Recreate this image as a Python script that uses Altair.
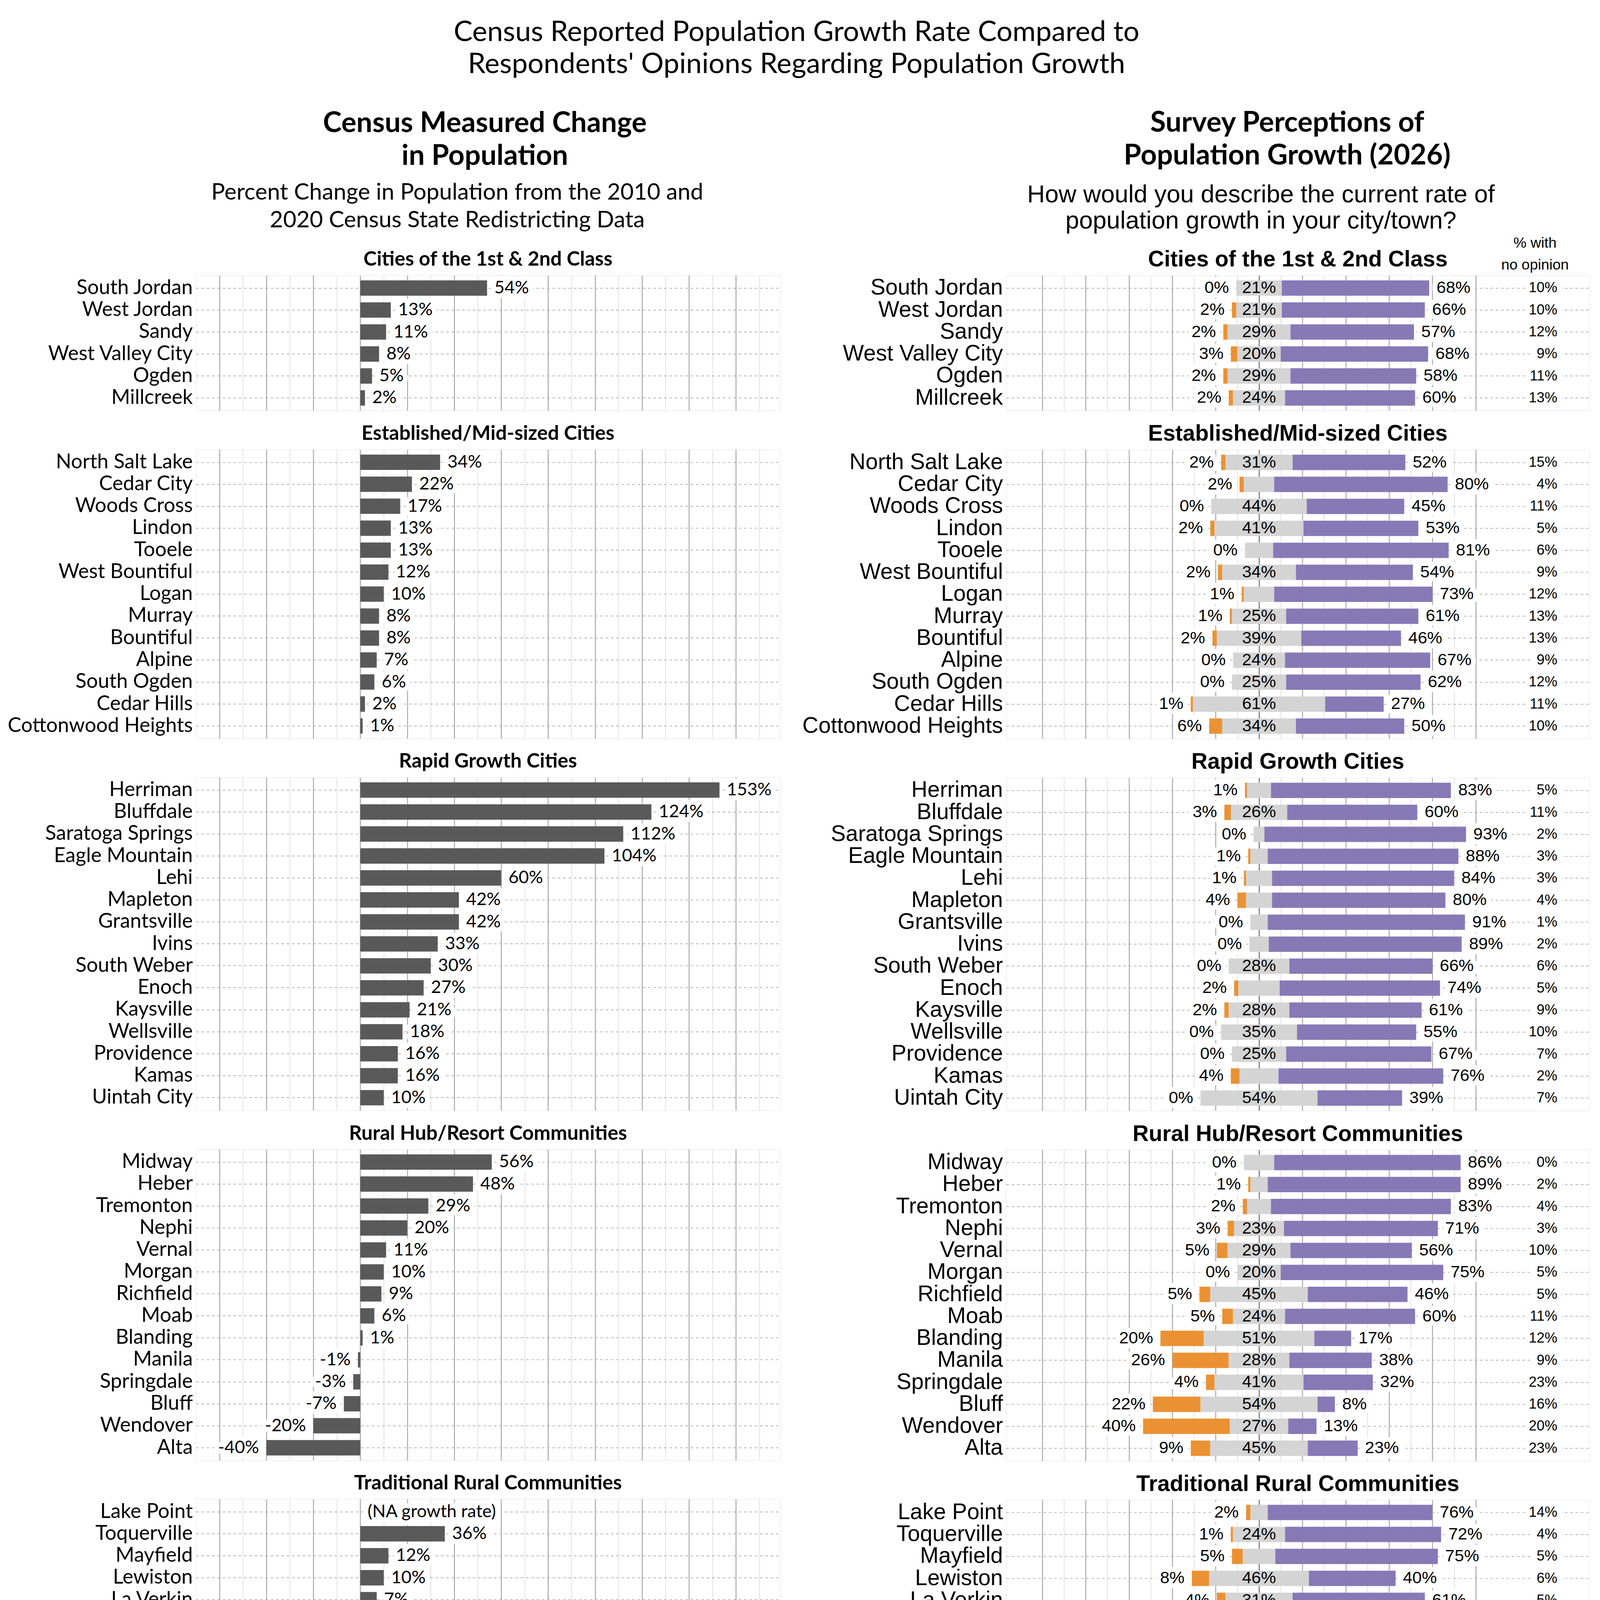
import altair as alt
import pandas as pd

# ------------------------------------------------------------------ data
GROUPS = [
    "Cities of the 1st & 2nd Class",
    "Established/Mid-sized Cities",
    "Rapid Growth Cities",
    "Rural Hub/Resort Communities",
    "Traditional Rural Communities",
]

CITIES = [
    ["South Jordan", "West Jordan", "Sandy", "West Valley City", "Ogden", "Millcreek"],
    ["North Salt Lake", "Cedar City", "Woods Cross", "Lindon", "Tooele", "West Bountiful",
     "Logan", "Murray", "Bountiful", "Alpine", "South Ogden", "Cedar Hills", "Cottonwood Heights"],
    ["Herriman", "Bluffdale", "Saratoga Springs", "Eagle Mountain", "Lehi", "Mapleton",
     "Grantsville", "Ivins", "South Weber", "Enoch", "Kaysville", "Wellsville", "Providence",
     "Kamas", "Uintah City"],
    ["Midway", "Heber", "Tremonton", "Nephi", "Vernal", "Morgan", "Richfield", "Moab",
     "Blanding", "Manila", "Springdale", "Bluff", "Wendover", "Alta"],
    ["Lake Point", "Toquerville", "Mayfield", "Lewiston", "La Verkin", "Delta", "Stockton",
     "Ferron", "Orangeville"],
]

# census percent change 2010-2020 (None = NA growth rate)
CENSUS = [
    [54, 13, 11, 8, 5, 2],
    [34, 22, 17, 13, 13, 12, 10, 8, 8, 7, 6, 2, 1],
    [153, 124, 112, 104, 60, 42, 42, 33, 30, 27, 21, 18, 16, 16, 10],
    [56, 48, 29, 20, 11, 10, 9, 6, 1, -1, -3, -7, -20, -40],
    [None, 36, 12, 10, 7, 5, 1, -9, -17],
]

# survey: too slow / just right / too fast / no opinion (%)
SLOW = [
    [0, 2, 2, 3, 2, 2],
    [2, 2, 0, 2, 0, 2, 1, 1, 2, 0, 0, 1, 6],
    [1, 3, 0, 1, 1, 4, 0, 0, 0, 2, 2, 0, 0, 4, 0],
    [0, 1, 2, 3, 5, 0, 5, 5, 20, 26, 4, 22, 40, 9],
    [2, 1, 5, 8, 4, 15, 6, 17, 19],
]
JUST = [
    [21, 21, 29, 20, 29, 24],
    [31, 14, 44, 41, 13, 34, 14, 25, 39, 24, 25, 61, 34],
    [11, 26, 5, 8, 12, 12, 8, 9, 28, 19, 28, 35, 25, 18, 54],
    [14, 8, 11, 23, 29, 20, 45, 24, 51, 28, 41, 54, 27, 45],
    [8, 24, 15, 46, 31, 41, 34, 50, 53],
]
FAST = [
    [68, 66, 57, 68, 58, 60],
    [52, 80, 45, 53, 81, 54, 73, 61, 46, 67, 62, 27, 50],
    [83, 60, 93, 88, 84, 80, 91, 89, 66, 74, 61, 55, 67, 76, 39],
    [86, 89, 83, 71, 56, 75, 46, 60, 17, 38, 32, 8, 13, 23],
    [76, 72, 75, 40, 61, 33, 53, 17, 17],
]
NOOP = [
    [10, 10, 12, 9, 11, 13],
    [15, 4, 11, 5, 6, 9, 12, 13, 13, 9, 12, 11, 10],
    [5, 11, 2, 3, 3, 4, 1, 2, 6, 5, 9, 10, 7, 2, 7],
    [0, 2, 4, 3, 10, 5, 5, 11, 12, 9, 23, 16, 20, 23],
    [14, 4, 5, 6, 5, 12, 8, 17, 11],
]

CATS = ["Too slow", "Just right", "Too fast"]
CAT_COLORS = ["#EA9233", "#D4D4D4", "#8779B6"]

LEFT_MAJOR = [-60, -40, -20, 0, 20, 40, 60, 80, 100, 120, 140, 160]
LEFT_MINOR = [-50, -30, -10, 10, 30, 50, 70, 90, 110, 130, 150, 170]
RIGHT_MAJOR = [-100, -80, -60, -40, -20, 0, 20, 40, 60, 80, 100]
RIGHT_MINOR = [-90, -70, -50, -30, -10, 10, 30, 50, 70, 90]

TITLE = ["Census Reported Population Growth Rate Compared to",
         "Respondents' Opinions Regarding Population Growth"]
LEFT_HEAD = ["Census Measured Change", "in Population"]
LEFT_SUB = ["Percent Change in Population from the 2010 and",
            "2020 Census State Redistricting Data"]
RIGHT_HEAD = ["Survey Perceptions of", "Population Growth (2026)"]
RIGHT_SUB = ["How would you describe the current rate of",
             "population growth in your city/town?"]
NOOP_HEAD = "% with\nno opinion"

# ------------------------------------------------------------------ style
LF = "Lato"
RF = "Liberation Sans"
STEP = 66.1
PW_L = 1757
PW_R = 1755
BAR_DARK = "#595959"
HALO = dict(fill="white", stroke="white", strokeWidth=30, strokeJoin="round")
SEC_Y = -47          # section title centre, px above the frame
SEC_FS_L = 60
SEC_FS_R = 67

LEGEND = alt.Legend(title=None, orient="none", legendX=2681, legendY=4340,
                    direction="horizontal", symbolType="square",
                    symbolSize=5184, symbolStrokeWidth=0, labelFont=RF,
                    labelFontSize=64, labelColor="#000000", labelOffset=45,
                    labelLimit=1000, columnPadding=72)


def y_enc(order, font, size, extent):
    return alt.Y(
        "city:N", sort=order, title=None,
        scale=alt.Scale(paddingInner=0.3, paddingOuter=0.226),
        axis=alt.Axis(labelFont=font, labelFontSize=size, labelColor="#000000",
                      labelPadding=10, labelLimit=2000, ticks=False, domain=False,
                      grid=True, gridDash=[8, 8], gridColor="#A8A8A8", gridWidth=2,
                      minExtent=extent, maxExtent=extent),
    )


def section_title(i, font, size, width):
    return alt.Chart(pd.DataFrame({"t": [GROUPS[i]]})).mark_text(
        align="center", baseline="middle", font=font, fontSize=size,
        fontWeight="bold", color="#000000",
    ).encode(x=alt.value(width / 2), y=alt.value(SEC_Y), text="t:N")


def noop_head(opacity):
    return alt.Chart(pd.DataFrame({"t": [NOOP_HEAD]})).mark_text(
        lineBreak="\n", lineHeight=65, align="center", baseline="alphabetic",
        font=RF, fontSize=44, color="#000000", opacity=opacity,
    ).encode(x=alt.value(1591), y=alt.value(-83), text="t:N")


def left_panel(i):
    last = i == len(GROUPS) - 1
    df = pd.DataFrame({"city": CITIES[i], "change": CENSUS[i]})
    xs = alt.Scale(domain=[-70, 178.8], nice=False, zero=False)
    y = y_enc(CITIES[i], LF, 61, 579)
    ax = dict(values=LEFT_MAJOR, grid=True, gridColor="#ABABAB", gridWidth=3,
              domain=False, labels=last, ticks=last)
    if last:
        ax.update(tickColor="#333333", tickSize=12, tickWidth=3,
                  labelExpr="datum.value + '%'", labelFont=LF, labelFontSize=50,
                  labelColor="#000000", labelPadding=6,
                  title="Percent Change in Population", titleFont=LF,
                  titleFontSize=49, titleFontWeight="normal", titleColor="#000000",
                  titlePadding=36)
    else:
        ax.update(title=None)
    base = alt.Chart(df)
    minor = base.mark_point(opacity=0).encode(
        x=alt.X("change:Q", scale=xs,
                axis=alt.Axis(orient="top", values=LEFT_MINOR, grid=True,
                              gridColor="#D2D2D2", gridWidth=1.5, labels=False,
                              ticks=False, domain=False, title=None)),
        y=y,
    )
    bars = base.mark_bar(color=BAR_DARK).encode(
        x=alt.X("change:Q", scale=xs, axis=alt.Axis(**ax)),
        x2=alt.X2(datum=0),
        y=y,
    )
    lab = base.transform_calculate(
        lx="datum.change == null ? 0 : datum.change",
        txt="datum.change == null ? '(NA growth rate)' : datum.change + '%'",
    )
    layers = [minor, bars]
    for flt, align, dx in [("datum.lx >= 0", "left", 22), ("datum.lx < 0", "right", -22)]:
        src = lab.transform_filter(flt)
        enc = dict(x=alt.X("lx:Q", scale=xs, axis=None), y=y, text="txt:N")
        layers.append(src.mark_text(align=align, dx=dx, baseline="middle", font=LF,
                                    fontSize=53, **HALO).encode(**enc))
        layers.append(src.mark_text(align=align, dx=dx, baseline="middle", font=LF,
                                    fontSize=53, color="#000000").encode(**enc))
    layers.append(section_title(i, LF, SEC_FS_L, PW_L))
    if i == 0:
        layers.append(noop_head(0))
    return alt.layer(*layers).resolve_axis(x="independent").properties(
        width=PW_L, height=alt.Step(STEP))


def right_panel(i):
    df = pd.DataFrame({"city": CITIES[i], "slow": SLOW[i], "jr": JUST[i],
                       "fast": FAST[i], "noop": NOOP[i]})
    xs = alt.Scale(domain=[-116.7, 152.5], nice=False, zero=False)
    y = y_enc(CITIES[i], RF, 67, 620)
    base = alt.Chart(df)
    minor = base.mark_point(opacity=0).encode(
        x=alt.X("jr:Q", scale=xs,
                axis=alt.Axis(orient="top", values=RIGHT_MINOR, grid=True,
                              gridColor="#D2D2D2", gridWidth=1.5, labels=False,
                              ticks=False, domain=False, title=None)),
        y=y,
    )
    bars = base.transform_fold(["slow", "jr", "fast"], as_=["key", "val"]).transform_calculate(
        cat="datum.key == 'slow' ? 'Too slow' : (datum.key == 'jr' ? 'Just right' : 'Too fast')",
        start="datum.key == 'slow' ? -datum.jr / 2 - datum.slow : (datum.key == 'jr' ? -datum.jr / 2 : datum.jr / 2)",
    ).transform_calculate(end="datum.start + datum.val").mark_bar().encode(
        x=alt.X("start:Q", scale=xs,
                axis=alt.Axis(values=RIGHT_MAJOR, grid=True,
                              gridColor={"condition": {"test": "datum.value === 0", "value": "#707070"},
                                         "value": "#ABABAB"},
                              gridWidth=3, domain=False, labels=False, ticks=False,
                              title=None)),
        x2="end:Q",
        y=y,
        color=alt.Color("cat:N", scale=alt.Scale(domain=CATS, range=CAT_COLORS),
                        legend=LEGEND),
    )
    layers = [minor, bars]
    specs = [
        ("-datum.jr / 2 - datum.slow", "datum.slow + '%'", "true", "right", -22, True),
        ("datum.jr / 2 + datum.fast", "datum.fast + '%'", "true", "left", 22, True),
        ("0", "datum.jr + '%'", "datum.jr >= 20", "center", 0, False),
    ]
    for lx, txt, flt, align, dx, halo in specs:
        src = base.transform_calculate(lx=lx, txt=txt).transform_filter(flt)
        enc = dict(x=alt.X("lx:Q", scale=xs, axis=None), y=y, text="txt:N")
        if halo:
            layers.append(src.mark_text(align=align, dx=dx, baseline="middle", font=RF,
                                        fontSize=51, **HALO).encode(**enc))
        layers.append(src.mark_text(align=align, dx=dx, baseline="middle", font=RF,
                                    fontSize=51, color="#000000").encode(**enc))
    nsrc = base.transform_calculate(txt="datum.noop + '%'")
    nenc = dict(x=alt.value(1658), y=y, text="txt:N")
    layers.append(nsrc.mark_text(align="right", baseline="middle", font=RF, fontSize=43,
                                 **HALO).encode(**nenc))
    layers.append(nsrc.mark_text(align="right", baseline="middle", font=RF, fontSize=43,
                                 color="#000000").encode(**nenc))
    layers.append(section_title(i, RF, SEC_FS_R, PW_R))
    if i == 0:
        layers.append(noop_head(1))
    return alt.layer(*layers).resolve_axis(x="independent").properties(
        width=PW_R, height=alt.Step(STEP))


def column(panels, spacing, head, head_dx, sub, sub_font, sub_fs, sub_lh, sub_dx,
           sub_offset, head_offset):
    inner = alt.vconcat(*panels, spacing=spacing).properties(
        title=alt.TitleParams(sub, font=sub_font, fontSize=sub_fs, fontWeight="normal",
                              lineHeight=sub_lh, color="#000000", anchor="middle",
                              dx=sub_dx, offset=sub_offset))
    return alt.vconcat(inner).properties(
        title=alt.TitleParams(head, font=LF, fontSize=85, fontWeight="bold",
                              lineHeight=99, color="#000000", anchor="middle",
                              dx=head_dx, offset=head_offset))


left_col = column([left_panel(i) for i in range(len(GROUPS))],
                  115 - (-SEC_Y + SEC_FS_L / 2),
                  LEFT_HEAD, 280, LEFT_SUB, LF, 69, 83, 197, 12, 32)
right_col = column([right_panel(i) for i in range(len(GROUPS))],
                   115 - (-SEC_Y + SEC_FS_R / 2),
                   RIGHT_HEAD, 278, RIGHT_SUB, RF, 74, 79, 199, 6, 37)

chart = alt.hconcat(left_col, right_col, spacing=58).properties(
    title=alt.TitleParams(TITLE, font=LF, fontSize=85, fontWeight="normal",
                          lineHeight=96, color="#000000", anchor="middle",
                          frame="bounds", offset=90),
    padding={"left": 0, "top": -388, "right": 21, "bottom": 135},
).configure_view(stroke="#ABABAB", strokeWidth=3).configure(background="white")

chart.save("out.html", embed_options={"renderer": "svg", "actions": False})
